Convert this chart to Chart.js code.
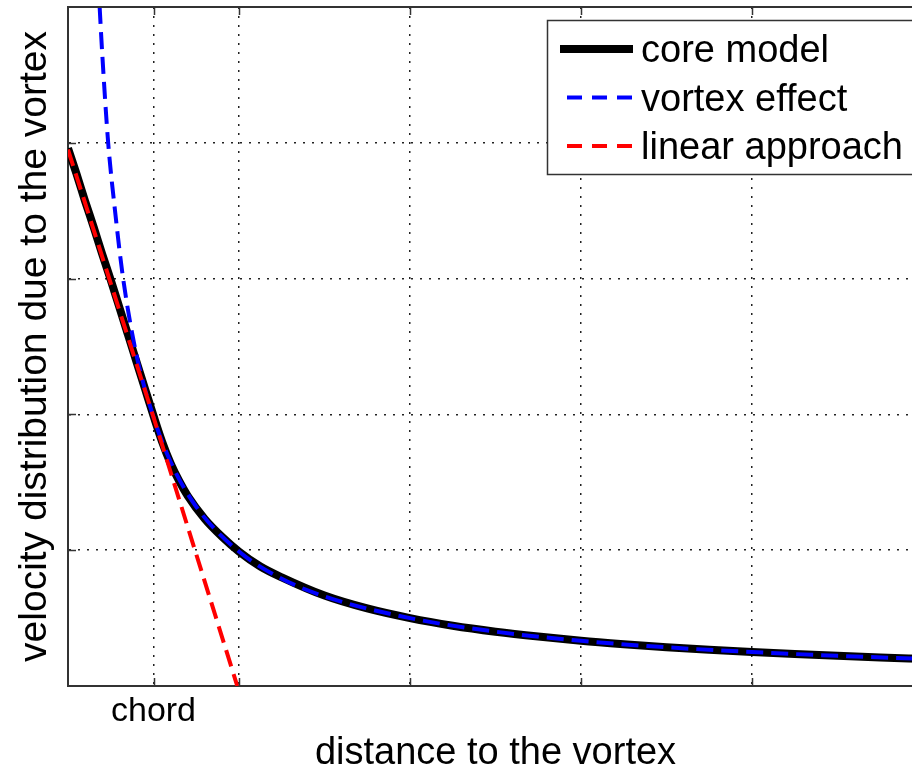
<!DOCTYPE html>
<html><head><meta charset="utf-8">
<script src="https://cdn.jsdelivr.net/npm/chart.js@4.4.0/dist/chart.umd.min.js"></script>
<style>
html,body{margin:0;padding:0;background:#fff;overflow:hidden;width:912px;height:773px}
#wrap{width:940px;height:773px;position:relative}
canvas{display:block}
</style></head><body>
<div id="wrap"><canvas id="c" width="940" height="773"></canvas></div>
<script>
// ---- data ----
const xTickValues = [1, 2, 4, 6, 8];
const xTickLabels = ['chord', '', '', '', ''];
const yTickValues = [1, 2, 3, 4];

const coreX = [0, 0.1, 0.2, 0.3, 0.4, 0.5, 0.6, 0.7, 0.8, 0.9, 1.0, 1.1, 1.2, 1.3, 1.4, 1.6, 1.8, 2.0, 2.25, 2.5, 3.0, 3.5, 4.0, 4.5, 5.0, 5.5, 6.0, 6.5, 7.0, 7.5, 8.0, 8.5, 9.0, 9.5, 10.0];
const coreY = [3.96, 3.77, 3.57, 3.38, 3.18, 2.99, 2.79, 2.59, 2.39, 2.19, 1.99, 1.80, 1.64, 1.51, 1.40, 1.23, 1.10, 0.99, 0.88, 0.80, 0.666, 0.571, 0.50, 0.444, 0.40, 0.364, 0.333, 0.308, 0.286, 0.267, 0.25, 0.235, 0.222, 0.21, 0.20];

const vortexX = [0.37, 0.40, 0.47, 0.55, 0.645, 0.8, 1.0, 1.2, 1.5, 2.0, 2.5, 3.0, 4.0, 5.0, 6.0, 7.0, 8.0, 9.0, 10.0];
const vortexY = [5.0, 4.66, 4.0, 3.5, 3.0, 2.44, 1.98, 1.65, 1.32, 0.99, 0.79, 0.66, 0.50, 0.40, 0.333, 0.285, 0.25, 0.222, 0.20];

const linearX = [0, 1.0, 1.98];
const linearY = [3.95, 1.98, 0];

const seriesNames = ['core model', 'vortex effect', 'linear approach'];
const xTitle = 'distance to the vortex';
const yTitle = 'velocity distribution due to the vortex';

const pts = (xs, ys) => xs.map((x, i) => ({x: x, y: ys[i]}));
const FONT = '"Liberation Sans", Arial, Helvetica, sans-serif';

const frame = {
  id: 'frame',
  afterDatasetsDraw(chart) {
    const {ctx, chartArea: a, scales} = chart;
    ctx.save();
    ctx.strokeStyle = '#333';
    ctx.lineWidth = 2;
    ctx.setLineDash([]);
    // top border
    ctx.beginPath(); ctx.moveTo(a.left, a.top); ctx.lineTo(chart.width, a.top); ctx.stroke();
    // inward ticks
    ctx.lineWidth = 1.5;
    const tl = 8;
    scales.x.ticks.forEach(t => {
      const px = Math.round(scales.x.getPixelForValue(t.value)) + 0.5;
      ctx.beginPath(); ctx.moveTo(px, a.bottom); ctx.lineTo(px, a.bottom - tl); ctx.stroke();
      ctx.beginPath(); ctx.moveTo(px, a.top); ctx.lineTo(px, a.top + tl); ctx.stroke();
    });
    scales.y.ticks.forEach(t => {
      const py = Math.round(scales.y.getPixelForValue(t.value)) + 0.5;
      ctx.beginPath(); ctx.moveTo(a.left, py); ctx.lineTo(a.left + tl, py); ctx.stroke();
    });
    ctx.restore();
  },
  afterDraw(chart) {
    const {ctx, chartArea: a} = chart;
    const box = {left: 547, top: a.top + 13, bottom: a.top + 167};
    ctx.save();
    ctx.fillStyle = '#fff';
    ctx.fillRect(box.left, box.top, chart.width, box.bottom - box.top);
    ctx.strokeStyle = '#333';
    ctx.lineWidth = 1.5;
    ctx.strokeRect(box.left + 0.5, box.top + 0.5, chart.width, box.bottom - box.top);
    const dsets = chart.data.datasets;
    ctx.font = '38px ' + FONT;
    ctx.textBaseline = 'alphabetic';
    ctx.textAlign = 'left';
    dsets.forEach((ds, i) => {
      const cy = box.top + 29 + i * 48.5;
      ctx.strokeStyle = ds.borderColor;
      ctx.lineWidth = ds.borderWidth;
      if (ds.borderDash && ds.borderDash.length) {
        ctx.setLineDash([15, 10]);
        ctx.beginPath(); ctx.moveTo(567, cy); ctx.lineTo(633, cy); ctx.stroke();
      } else {
        ctx.setLineDash([]);
        ctx.beginPath(); ctx.moveTo(560, cy); ctx.lineTo(633, cy); ctx.stroke();
      }
      ctx.fillStyle = '#000';
      ctx.fillText(ds.label, 641, cy + 13);
    });
    ctx.restore();
  }
};

new Chart(document.getElementById('c'), {
  type: 'line',
  data: {
    datasets: [
      {label: seriesNames[0], data: pts(coreX, coreY), borderColor: '#000000', borderWidth: 8,
       pointRadius: 0, cubicInterpolationMode: 'monotone', order: 3, fill: false},
      {label: seriesNames[1], data: pts(vortexX, vortexY), borderColor: '#0000ff', borderWidth: 4,
       borderDash: [17, 8], pointRadius: 0, cubicInterpolationMode: 'monotone', order: 2, fill: false},
      {label: seriesNames[2], data: pts(linearX, linearY), borderColor: '#ff0000', borderWidth: 4,
       borderDash: [17, 8], pointRadius: 0, tension: 0, order: 1, fill: false}
    ]
  },
  options: {
    responsive: false,
    animation: false,
    devicePixelRatio: 1,
    layout: {padding: {top: 7, right: 17, left: 0, bottom: 0}},
    plugins: {legend: {display: false}, tooltip: {enabled: false}},
    scales: {
      x: {
        type: 'linear', min: 0, max: 10,
        afterBuildTicks: s => { s.ticks = xTickValues.map(v => ({value: v})); },
        afterFit: s => { s.height = 87; },
        ticks: {
          autoSkip: false, maxRotation: 0, padding: 5, color: '#000',
          font: {family: FONT, size: 34},
          callback: v => { const i = xTickValues.indexOf(v); return i >= 0 ? xTickLabels[i] : ''; }
        },
        grid: {color: '#222', lineWidth: 1.5, drawTicks: false},
        border: {display: true, color: '#333', width: 2, dash: [2, 7]},
        title: {display: true, text: xTitle, color: '#000', font: {family: FONT, size: 38, lineHeight: 1}, padding: {top: 0, bottom: 0}}
      },
      y: {
        type: 'linear', min: 0, max: 5,
        afterBuildTicks: s => { s.ticks = yTickValues.map(v => ({value: v})); },
        afterFit: s => { s.width = 68; },
        ticks: {display: false},
        grid: {color: '#222', lineWidth: 1.5, drawTicks: false},
        border: {display: true, color: '#333', width: 2, dash: [2, 7]},
        title: {display: true, text: yTitle, color: '#000', font: {family: FONT, size: 39, lineHeight: 1}, padding: {top: 16, bottom: 0}}
      }
    }
  },
  plugins: [frame]
});
</script>
</body></html>
